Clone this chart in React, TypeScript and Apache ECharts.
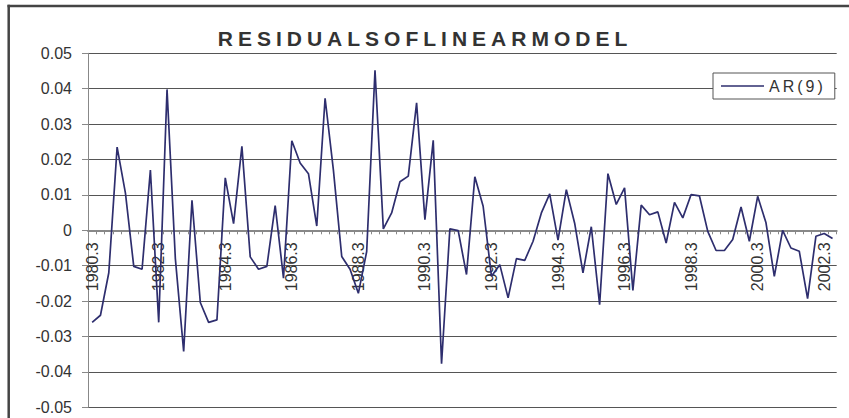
import React, { useEffect, useRef } from "react";
import * as echarts from "echarts";

const TITLE = "RESIDUALSOFLINEARMODEL";
const SERIES_NAME = "AR(9)";

// Quarterly categories 1980.3 … 2002.4
const FIRST_YEAR = 1980;
const FIRST_QUARTER = 3;
const POINT_COUNT = 90;
const categories: string[] = [];
for (let k = 0; k < POINT_COUNT; k++) {
  const q0 = FIRST_QUARTER - 1 + k;
  categories.push(`${FIRST_YEAR + Math.floor(q0 / 4)}.${(q0 % 4) + 1}`);
}

// Residual values
const residuals1980s: number[] = [
  -0.026, -0.024, -0.012, 0.0235, 0.0105, -0.0102, -0.011, 0.017, -0.026, 0.0398,
  -0.008, -0.0342, 0.0085, -0.0204, -0.026, -0.0253, 0.0148, 0.0019, 0.0237, -0.0075,
  -0.011, -0.0102, 0.007, -0.0135, 0.0253, 0.019, 0.016, 0.0012, 0.0373, 0.017,
  -0.0074, -0.011, -0.0178, -0.006, 0.0452, 0.0004, 0.0049, 0.0137, 0.0153, 0.036,
];
const residuals1990s: number[] = [
  0.003, 0.0254, -0.0377, 0.0004, -0.0001, -0.0125, 0.0151, 0.0068, -0.013, -0.0097,
  -0.0191, -0.008, -0.0085, -0.0031, 0.0049, 0.0103, -0.0028, 0.0115, 0.002, -0.012,
  0.001, -0.021, 0.016, 0.0073, 0.012, -0.017, 0.0071, 0.0044, 0.0052, -0.0036,
  0.0079, 0.0035, 0.0101, 0.0097, -0.0003, -0.0057, -0.0057, -0.0026, 0.0066, -0.0031,
];
const residuals2000s: number[] = [
  0.0096, 0.0021, -0.013, 0.0, -0.005, -0.0059, -0.0193, -0.0017, -0.0009, -0.0023,
];
const values = [...residuals1980s, ...residuals1990s, ...residuals2000s];

const Y_MIN = -0.05;
const Y_MAX = 0.05;
const Y_STEP = 0.01;
const LABEL_EVERY = 8;

const FONT = '"Liberation Sans", Arial, sans-serif';
const LINE_COLOR = "#2e2e6e";

const GRID_TOP = 53.3;
const GRID_BOTTOM = 10.7;
const CHART_H = 418;

export default function App() {
  const ref = useRef<HTMLDivElement>(null);

  useEffect(() => {
    if (!ref.current) return;
    const chart = echarts.init(ref.current, null, { renderer: "svg" });
    // distance from grid bottom up to the zero line
    const plotH = CHART_H - GRID_TOP - GRID_BOTTOM;
    const zeroOffset = plotH * ((0 - Y_MIN) / (Y_MAX - Y_MIN));

    chart.setOption({
      animation: false,
      backgroundColor: "#ffffff",
      grid: {
        left: 88,
        right: 12.3,
        top: GRID_TOP,
        bottom: GRID_BOTTOM,
        containLabel: false,
        outerBoundsMode: "none",
      },
      graphic: [
        {
          type: "line",
          shape: { x1: 8.7, y1: 4.8, x2: 8.7, y2: 418 },
          style: { stroke: "#444", lineWidth: 2.5 },
        },
        {
          type: "line",
          shape: { x1: 7.5, y1: 6, x2: 849, y2: 6 },
          style: { stroke: "#444", lineWidth: 2.5 },
        },
        {
          type: "text",
          x: 425,
          y: 38.8,
          style: {
            text: TITLE,
            fontFamily: FONT,
            fontWeight: "bold",
            fontSize: 21,
            fill: "#333",
            align: "center",
            verticalAlign: "middle",
          },
        },
      ],
      legend: {
        data: [{ name: SERIES_NAME, icon: "rect" }],
        left: 713,
        top: 73,
        itemWidth: 43,
        itemHeight: 1.6,
        padding: [4, 24, 4, 8],
        borderColor: "#555",
        borderWidth: 1,
        backgroundColor: "#ffffff",
        itemStyle: { color: LINE_COLOR },
        textStyle: { fontFamily: FONT, fontSize: 16, color: "#333", lineHeight: 18 },
      },
      xAxis: [
        {
          type: "category",
          data: categories,
          boundaryGap: true,
          axisLine: { onZero: true, lineStyle: { color: "#888", width: 2 } },
          axisTick: {
            show: true,
            interval: 0,
            alignWithLabel: false,
            length: 4,
            lineStyle: { color: "#888", width: 1 },
          },
          axisLabel: { show: false },
          splitLine: { show: false },
        },
        {
          type: "category",
          data: categories,
          boundaryGap: true,
          position: "bottom",
          offset: -zeroOffset,
          axisLine: { show: false, onZero: false },
          axisTick: { show: false },
          axisLabel: {
            interval: LABEL_EVERY - 1,
            rotate: 90,
            margin: 12,
            fontFamily: FONT,
            fontSize: 16,
            color: "#333",
          },
          splitLine: { show: false },
        },
      ],
      yAxis: {
        type: "value",
        min: Y_MIN,
        max: Y_MAX,
        interval: Y_STEP,
        axisLine: { show: true, lineStyle: { color: "#888", width: 1 } },
        axisTick: { show: true, length: 6, lineStyle: { color: "#888" } },
        axisLabel: {
          margin: 16,
          fontFamily: FONT,
          fontSize: 16,
          color: "#333",
          formatter: (v: number) => {
            const r = Math.round(v * 100) / 100;
            return r === 0 ? "0" : r.toFixed(2);
          },
        },
        splitLine: { show: true, lineStyle: { color: "#555", width: 1 } },
      },
      series: [
        {
          name: SERIES_NAME,
          type: "line",
          xAxisIndex: 0,
          data: values,
          symbol: "none",
          showSymbol: false,
          lineStyle: { color: LINE_COLOR, width: 1.7 },
          itemStyle: { color: LINE_COLOR },
        },
      ],
    });

    const svg = ref.current.querySelector("svg");
    if (svg) {
      svg.querySelectorAll("text").forEach((t) => {
        const s = (t.textContent || "").trim();
        if (s === TITLE) (t as SVGTextElement).style.letterSpacing = "5px";
        if (s === SERIES_NAME) (t as SVGTextElement).style.letterSpacing = "3px";
      });
    }

    return () => chart.dispose();
  }, []);

  return (
    <div
      ref={ref}
      style={{ position: "fixed", left: 0, top: 0, width: 849, height: 418, background: "#fff" }}
    />
  );
}
